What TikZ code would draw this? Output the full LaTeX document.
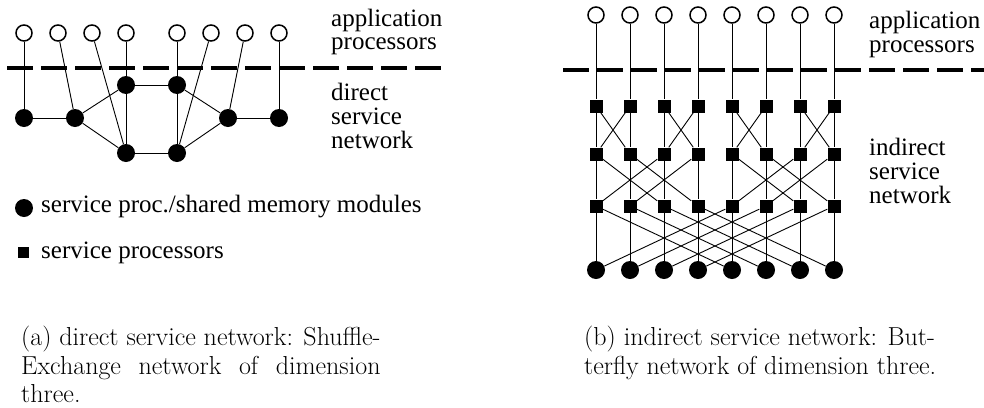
\documentclass[tikz,border=0pt]{standalone}
\usepackage{fontspec}
\setmainfont{Liberation Serif}
\newfontfamily\lblfont{Liberation Serif}
\newfontfamily\capfont{Latin Modern Roman}
\newcommand\capsize{\capfont\fontsize{26}{29}\selectfont}
\newlength\capwa
\begin{document}
\settowidth\capwa{\capsize (a) direct service network: Shuffle-}
\begin{tikzpicture}[x=1pt,y=-1pt,
  opencirc/.style={circle,draw,line width=1.5pt,fill=white,minimum size=16pt,inner sep=0pt},
  fcirc/.style={circle,fill=black,minimum size=18pt,inner sep=0pt},
  sqnode/.style={rectangle,fill=black,minimum size=13pt,inner sep=0pt},
  conn/.style={line width=0.9pt},
  sepline/.style={line width=4pt,dash pattern=on 26pt off 8pt},
  lbl/.style={anchor=base west,inner sep=0pt,font=\lblfont\fontsize{25}{24}\selectfont},
  captext/.style={anchor=base west,inner sep=0pt,font=\capsize}]
\useasboundingbox (0,0) rectangle (984,407);
\fill[white] (0,0) rectangle (984,407);

% ---------- left panel ----------
\foreach \x [count=\i] in {24,58,92,126,177,211,245,279}
  \node[opencirc] (La\i) at (\x,33) {};
\node[fcirc] (Lf1) at (24,118) {};
\node[fcirc] (Lf2) at (75,118) {};
\node[fcirc] (Lu1) at (126,85) {};
\node[fcirc] (Lu2) at (177,85) {};
\node[fcirc] (Ll1) at (126,153) {};
\node[fcirc] (Ll2) at (177,153) {};
\node[fcirc] (Lf3) at (228,118) {};
\node[fcirc] (Lf4) at (279,118) {};
\draw[conn] (La1) -- (Lf1);
\draw[conn] (La2) -- (Lf2);
\draw[conn] (La3) -- (Ll1);
\draw[conn] (La4) -- (Lu1);
\draw[conn] (Lu1) -- (Ll1);
\draw[conn] (La5) -- (Lu2);
\draw[conn] (Lu2) -- (Ll2);
\draw[conn] (La6) -- (Ll2);
\draw[conn] (La7) -- (Lf3);
\draw[conn] (La8) -- (Lf4);
\draw[conn] (Lf1) -- (Lf2);
\draw[conn] (Lf2) -- (Lu1);
\draw[conn] (Lf2) -- (Ll1);
\draw[conn] (Lu1) -- (Lu2);
\draw[conn] (Ll1) -- (Ll2);
\draw[conn] (Lu2) -- (Lf3);
\draw[conn] (Ll2) -- (Lf3);
\draw[conn] (Lf3) -- (Lf4);
\coordinate (LsepA) at (7,68);
\coordinate (LsepB) at (442,68);
\draw[sepline] (LsepA) -- (LsepB);

\node[lbl] (Lapp1) at (331,26) {application};
\node[lbl] (Lapp2) at (331,49) {processors};
\node[lbl] (Ldir1) at (331,100) {direct};
\node[lbl] (Ldir2) at (331,124) {service};
\node[lbl] (Ldir3) at (331,148) {network};

% legend
\node[fcirc] (legc) at (24,208) {};
\node[lbl] (legct) at (41,212) {service proc./shared memory modules};
\node[sqnode,minimum size=11pt] (legs) at (23,252) {};
\node[lbl] (legst) at (41,258) {service processors};

% ---------- right panel ----------
\foreach \i in {0,...,7}{
  \pgfmathsetmacro\xx{596+34*\i}
  \node[opencirc] (Ra\i) at (\xx,15) {};
  \node[sqnode] (Sa\i) at (\xx,106) {};
  \node[sqnode] (Sb\i) at (\xx,154) {};
  \node[sqnode] (Sc\i) at (\xx,206) {};
  \node[fcirc] (Rf\i) at (\xx,270) {};
}
\foreach \i in {0,...,7}{
  \pgfmathtruncatemacro\ja{mod(floor(\i/1),2)==0 ? \i+1 : \i-1}
  \pgfmathtruncatemacro\jb{mod(floor(\i/2),2)==0 ? \i+2 : \i-2}
  \pgfmathtruncatemacro\jc{mod(floor(\i/4),2)==0 ? \i+4 : \i-4}
  \draw[conn] (Ra\i) -- (Sa\i);
  \draw[conn] (Sa\i) -- (Sb\i);
  \draw[conn] (Sa\i) -- (Sb\ja);
  \draw[conn] (Sb\i) -- (Sc\i);
  \draw[conn] (Sb\i) -- (Sc\jb);
  \draw[conn] (Sc\i) -- (Rf\i);
  \draw[conn] (Sc\i) -- (Rf\jc);
}
\coordinate (RsepA) at (563,70);
\coordinate (RsepB) at (984,70);
\draw[sepline] (RsepA) -- (RsepB);

\node[lbl] (Rapp1) at (869,28) {application};
\node[lbl] (Rapp2) at (869,52) {processors};
\node[lbl] (Rind1) at (869,155) {indirect};
\node[lbl] (Rind2) at (869,179) {service};
\node[lbl] (Rind3) at (869,203) {network};

% ---------- captions ----------
\node[captext] (capa1) at (21,345) {(a) direct service network: Shuffle-};
\node[captext] (capa2) at (21,374) {\makebox[\capwa][s]{Exchange network of dimension}};
\node[captext] (capa3) at (21,402) {three.};
\node[captext] (capb1) at (584,345) {(b) indirect service network: But-};
\node[captext] (capb2) at (584,374) {terfly network of dimension three.};
\end{tikzpicture}
\end{document}
